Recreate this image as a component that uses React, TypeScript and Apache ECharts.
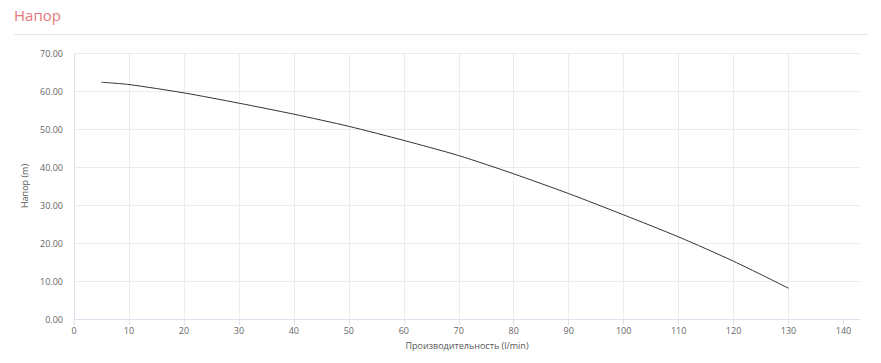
import React, { useEffect, useRef } from "react";
import * as echarts from "echarts";

const flowValues = [5, 10, 20, 30, 40, 50, 60, 70, 80, 90, 100, 110, 120, 130];
const headValues = [62.3, 61.7, 59.5, 56.8, 53.9, 50.7, 47.0, 43.0, 38.2, 33.0, 27.4, 21.6, 15.2, 8.1];
const xTickValues = [0, 10, 20, 30, 40, 50, 60, 70, 80, 90, 100, 110, 120, 130, 140];

const titleText = "Напор";
const xAxisName = "Производительность (l/min)";
const yAxisName = "Напор (m)";

export default function App() {
  const ref = useRef<HTMLDivElement>(null);
  useEffect(() => {
    document.body.style.margin = "0";
    const chart = echarts.init(ref.current!, null, { renderer: "svg" });
    const font = "'Open Sans', sans-serif";
    chart.setOption({
      animation: false,
      textStyle: { fontFamily: font },
      graphic: [
        {
          type: "text",
          left: 14,
          top: 7,
          style: { text: titleText, fill: "#e8777a", font: `15px ${font}` },
        },
        {
          type: "line",
          shape: { x1: 14, y1: 34.5, x2: 868, y2: 34.5 },
          style: { stroke: "#e6e6e6", lineWidth: 1 },
        },
      ],
      grid: { left: 74, right: 21, top: 53, bottom: 44 },
      xAxis: {
        type: "value",
        min: 0,
        max: 143,
        interval: 10,
        name: xAxisName,
        nameLocation: "middle",
        nameGap: 22,
        nameTextStyle: { color: "#555", fontSize: 9, fontFamily: font },
        axisLine: { show: true, lineStyle: { color: "#dde3ee" } },
        axisTick: { show: true, length: 6, lineStyle: { color: "#dde3ee" }, customValues: xTickValues },
        axisLabel: { color: "#666", fontSize: 9, margin: 7, fontFamily: font, customValues: xTickValues },
        splitLine: { show: true, showMaxLine: false, lineStyle: { color: "#ececec" } },
      },
      yAxis: {
        type: "value",
        min: 0,
        max: 70,
        interval: 10,
        name: yAxisName,
        nameLocation: "middle",
        nameGap: 35,
        nameTextStyle: { color: "#555", fontSize: 9, fontFamily: font },
        axisLine: { show: true, lineStyle: { color: "#dde3ee" } },
        axisTick: { show: false },
        axisLabel: {
          color: "#666",
          fontSize: 9,
          margin: 11,
          fontFamily: font,
          formatter: (v: number) => v.toFixed(2),
        },
        splitLine: { show: true, lineStyle: { color: "#ececec" } },
      },
      series: [
        {
          type: "line",
          data: flowValues.map((x, i) => [x, headValues[i]]),
          smooth: 0.25,
          showSymbol: false,
          lineStyle: { color: "#333", width: 1 },
        },
      ],
    });
    return () => chart.dispose();
  }, []);
  return <div ref={ref} style={{ width: 881, height: 363 }} />;
}
